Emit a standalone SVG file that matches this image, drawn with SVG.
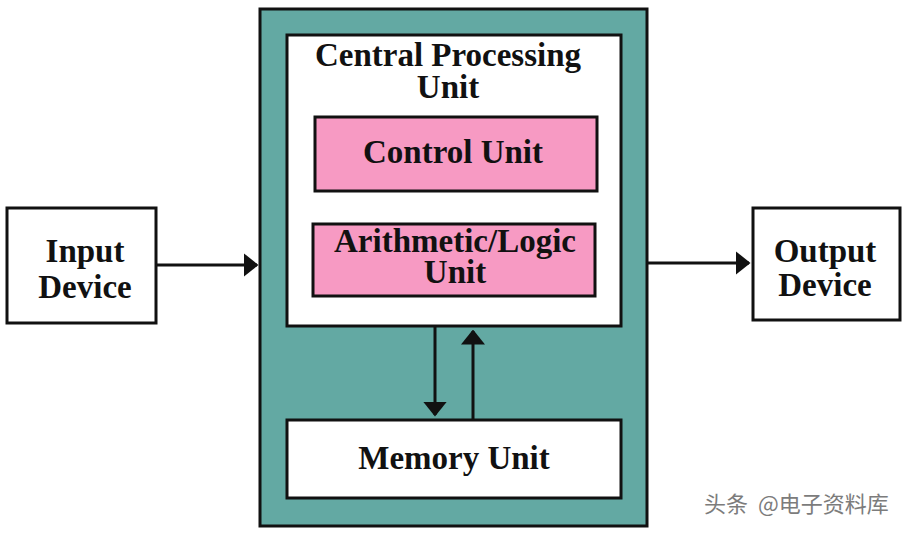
<svg xmlns="http://www.w3.org/2000/svg" width="910" height="534" viewBox="0 0 910 534">
<style>
.box{stroke:#111;stroke-width:3}
.t{font-family:"Liberation Serif","Times New Roman",serif;font-weight:bold;font-size:33px;fill:#111;text-anchor:middle}
.ln{stroke:#111;stroke-width:3;fill:none}
.wm{font-family:"Noto Sans CJK SC",sans-serif;font-size:22px;fill:#666;opacity:0.85}
</style>
<defs>
<marker id="ah" viewBox="0 0 10 16" refX="9" refY="8" markerWidth="5" markerHeight="8" markerUnits="strokeWidth" orient="auto">
<path d="M0,0 L10,8 L0,16 Z" fill="#111"/>
</marker>
</defs>
<rect width="910" height="534" fill="#fff"/>
<g id="outer"><rect class="box" x="260" y="9" width="387" height="517" fill="#63a9a3"/></g>
<g id="cpu"><rect class="box" x="287" y="35" width="334" height="291" fill="#fff"/>
<text class="t" x="448" y="66">Central Processing<tspan x="448" dy="32">Unit</tspan></text></g>
<g id="control"><rect class="box" x="315" y="117" width="282" height="74" fill="#f79ac3"/>
<text class="t" x="453" y="163">Control Unit</text></g>
<g id="alu"><rect class="box" x="313" y="224" width="282" height="72" fill="#f79ac3"/>
<text class="t" x="455" y="252">Arithmetic/Logic<tspan x="455" dy="31">Unit</tspan></text></g>
<g id="memory"><rect class="box" x="287" y="420" width="334" height="78" fill="#fff"/>
<text class="t" x="454" y="469">Memory Unit</text></g>
<g id="input"><rect class="box" x="7" y="208" width="149" height="115" fill="#fff"/>
<text class="t" x="85" y="262">Input<tspan x="85" dy="36">Device</tspan></text></g>
<g id="output"><rect class="box" x="753" y="208" width="147" height="112" fill="#fff"/>
<text class="t" x="825" y="262">Output<tspan x="825" dy="34">Device</tspan></text></g>
<g id="connectors">
<line class="ln" x1="157" y1="265" x2="257" y2="265" marker-end="url(#ah)"/>
<line class="ln" x1="648" y1="263" x2="749" y2="263" marker-end="url(#ah)"/>
<line class="ln" x1="435" y1="327" x2="435" y2="415" marker-end="url(#ah)"/>
<line class="ln" x1="473" y1="419" x2="473" y2="331" marker-end="url(#ah)"/>
</g>
<g id="watermark">
<text class="wm" x="704" y="512">头条</text>
<text class="wm" x="758" y="512">@电子资料库</text>
</g>
</svg>
